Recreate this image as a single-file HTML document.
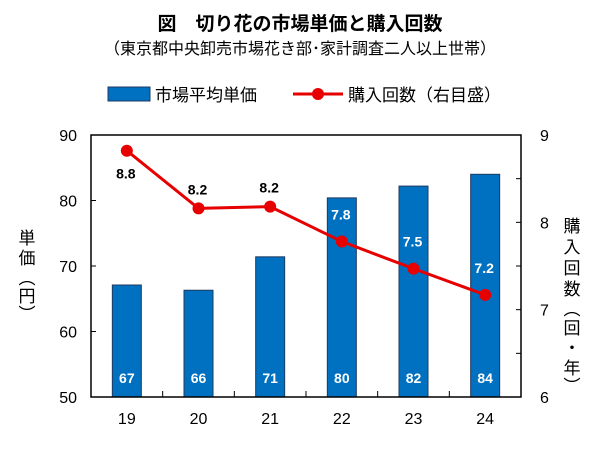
<!DOCTYPE html>
<html><head><meta charset="utf-8"><style>
body{margin:0;background:#fff;}
svg text{font-family:"Liberation Sans","Noto Sans CJK JP",sans-serif;}
</style></head><body>
<svg width="600" height="446" viewBox="0 0 600 446">
<text x="300" y="30" text-anchor="middle" font-size="19" font-weight="bold">図　切り花の市場単価と購入回数</text>
<text x="300" y="54" text-anchor="middle" font-size="16">（東京都中央卸売市場花き部･家計調査二人以上世帯）</text>
<g>
<rect x="108" y="87" width="42" height="14" fill="#0070C0" stroke="#1f3b60"/>
<text x="155" y="101" font-size="17">市場平均単価</text>
<line x1="293" y1="94" x2="343" y2="94" stroke="#E60000" stroke-width="3"/>
<circle cx="318" cy="94" r="6" fill="#E60000"/>
<text x="348" y="101" font-size="17">購入回数（右目盛）</text>
</g>
<text x="0" y="0" font-size="17" transform="translate(32,266) rotate(0)"></text>
<g id="ytitle"></g>
<g id="y2title"></g>
<g id="plot"></g>
</svg>
<script>
const categories=["19","20","21","22","23","24"];
const unitPrice=[67.1,66.3,71.4,80.4,82.2,84];
const priceLabels=["67","66","71","80","82","84"];
const purchases=[8.82,8.16,8.18,7.78,7.47,7.17];
const purchaseLabels=["8.8","8.2","8.2","7.8","7.5","7.2"];
const leftTicks=[50,60,70,80,90];
const rightTicks=[6,7,8,9];
const NS="http://www.w3.org/2000/svg";
const L=91,R=521,T=135,B=397;
const bw=(R-L)/categories.length;
const xC=i=>L+bw*(i+0.5);
const yL=v=>B-(v-50)/40*(B-T);
const yR=v=>B-(v-6)/3*(B-T);
const plot=document.getElementById('plot');
function mk(tag,attrs,parent){const e=document.createElementNS(NS,tag);for(const k in attrs)e.setAttribute(k,attrs[k]);(parent||plot).appendChild(e);return e;}
// bars
unitPrice.forEach((v,i)=>{
 const r=mk('rect',{x:xC(i)-14.5,y:yL(v),width:29,height:B-yL(v),fill:'#0070C0',stroke:'#1f3b60','stroke-width':1});
 
 
 const t=mk('text',{x:xC(i),y:383,'text-anchor':'middle','font-size':14,'font-weight':'bold',fill:'#fff'});
 t.textContent=priceLabels[i];
 
 
});
// frame
const f=mk('rect',{x:L,y:T,width:R-L,height:B-T,fill:'none',stroke:'#000','stroke-width':1.5});


leftTicks.forEach(v=>{
 const ln=mk('line',{x1:L,x2:L+5,y1:yL(v),y2:yL(v),stroke:'#000'});
 
 
 const t=mk('text',{x:L-14,y:yL(v)+6,'text-anchor':'end','font-size':16});
 t.textContent=v;
 
 
});
for(let v=6;v<=9;v+=0.5){
 const ln=mk('line',{x1:R-5,x2:R,y1:yR(v),y2:yR(v),stroke:'#000'});
 
 
}
rightTicks.forEach(v=>{
 const t=mk('text',{x:540,y:yR(v)+6,'font-size':16});
 t.textContent=v;
 
 
});
categories.forEach((c,i)=>{
 if(i>0){const ln=mk('line',{x1:L+bw*i,x2:L+bw*i,y1:B-6,y2:B,stroke:'#000'});
 
 }
 const t=mk('text',{x:xC(i),y:424,'text-anchor':'middle','font-size':16});
 t.textContent=c;
 
 
});
// line
const pl=mk('polyline',{points:purchases.map((v,i)=>xC(i)+','+yR(v)).join(' '),fill:'none',stroke:'#E60000','stroke-width':3});


purchases.forEach((v,i)=>{
 const c=mk('circle',{cx:xC(i),cy:yR(v),r:6,fill:'#E60000'});
 
 
 const onBar=yR(v)-22>yL(unitPrice[i]);
 const t=mk('text',{x:xC(i)-1,y:i<3?yR(v)+(i==0?28:-14):yR(v)-22,'text-anchor':'middle','font-size':14,'font-weight':'bold',fill:onBar?'#fff':'#000'});
 t.textContent=purchaseLabels[i];
 
 
});
// axis titles (vertical stacked)
const yt=document.getElementById('ytitle');
["単","価","︵","円","︶"].forEach((ch,k)=>{const t=mk('text',{x:27,y:[244,264,284,302,320][k],'text-anchor':'middle','font-size':17},yt);t.textContent=ch;});
const y2=document.getElementById('y2title');
["購","入","回","数","︵","回","・","年","︶"].forEach((ch,k)=>{const t=mk('text',{x:572,y:[232,253,274,295,315,334,354,374,392][k],'text-anchor':'middle','font-size':17},y2);t.textContent=ch;});
</script>
</body></html>
